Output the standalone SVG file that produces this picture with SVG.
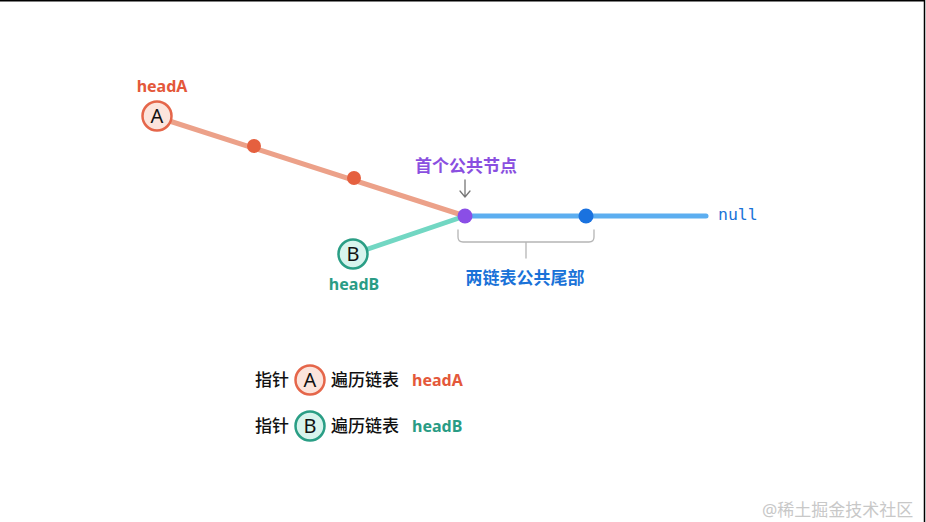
<svg xmlns="http://www.w3.org/2000/svg" width="926" height="522" viewBox="0 0 926 522">
<style>
.t{font-family:"Noto Sans","Noto Sans CJK SC",sans-serif;}
.b{font-weight:bold;}
.m{font-weight:500;}
.ring-a{fill:#fce4dc;stroke:#e5664a;stroke-width:2.5;}
.ring-b{fill:#d8f4ed;stroke:#2a9e85;stroke-width:2.5;}
.lbl{font-family:"Noto Sans","Noto Sans CJK SC",sans-serif;font-size:20px;fill:#111;text-anchor:middle;}
</style>
<rect width="926" height="522" fill="#fff"/>
<line x1="0" y1="0.75" x2="925" y2="0.75" stroke="#000" stroke-width="1.5"/>
<line x1="924.5" y1="0" x2="924.5" y2="522" stroke="#000" stroke-width="1.5"/>
<g id="connectors" fill="none" stroke-linecap="round">
<line x1="157" y1="117" x2="465" y2="216" stroke="#eca189" stroke-width="5"/>
<line x1="353" y1="254" x2="465" y2="216" stroke="#72d7c3" stroke-width="5"/>
<line x1="465" y1="216" x2="706" y2="216" stroke="#5caef0" stroke-width="5"/>
<path d="M465 180 V197 M460 191 L465 197 L470 191" stroke="#777" stroke-width="1.3" stroke-linejoin="round"/>
<path d="M458 230 V237 Q458 242 463 242 H589 Q594 242 594 237 V230 M526 242 V258" stroke="#b5b5b5" stroke-width="1.3"/>
</g>
<g id="nodeA">
<circle cx="157" cy="116" r="14.5" class="ring-a"/>
<text x="157" y="123" class="lbl">A</text>
<text x="162" y="92" class="t b" font-size="16" fill="#e4583a" text-anchor="middle">headA</text>
</g>
<g id="a1"><circle cx="254" cy="146" r="7" fill="#e5603f"/></g>
<g id="a2"><circle cx="354" cy="178" r="7" fill="#e5603f"/></g>
<g id="nodeB">
<circle cx="353" cy="254" r="14.5" class="ring-b"/>
<text x="353" y="261" class="lbl">B</text>
<text x="354" y="290" class="t b" font-size="16" fill="#2a9c85" text-anchor="middle">headB</text>
</g>
<g id="common">
<circle cx="465" cy="216" r="7.5" fill="#8a4ee6"/>
<text x="466" y="172" class="t b" font-size="17" fill="#8a4fe0" text-anchor="middle">首个公共节点</text>
</g>
<g id="c2"><circle cx="586" cy="216" r="7.5" fill="#1a72df"/></g>
<g id="null"><text x="718" y="220" font-family="'DejaVu Sans Mono','Liberation Mono',monospace" font-size="16.5" fill="#1a73d8">null</text></g>
<g id="tail"><text x="525" y="284" class="t b" font-size="17" fill="#1a72d8" text-anchor="middle">两链表公共尾部</text></g>
<g id="legendA">
<text x="255" y="386" class="t m" font-size="17" fill="#111">指针</text>
<circle cx="310" cy="380" r="14.5" class="ring-a"/>
<text x="310" y="387" class="lbl">A</text>
<text x="331" y="386" class="t m" font-size="17" fill="#111">遍历链表</text>
<text x="412" y="386" class="t b" font-size="16" fill="#e4583a">headA</text>
</g>
<g id="legendB">
<text x="255" y="432" class="t m" font-size="17" fill="#111">指针</text>
<circle cx="310" cy="426" r="14.5" class="ring-b"/>
<text x="310" y="433" class="lbl">B</text>
<text x="331" y="432" class="t m" font-size="17" fill="#111">遍历链表</text>
<text x="412" y="432" class="t b" font-size="16" fill="#2a9c85">headB</text>
</g>
<text x="762" y="516" class="t" font-size="17" fill="#c8c8c8">@稀土掘金技术社区</text>
</svg>
